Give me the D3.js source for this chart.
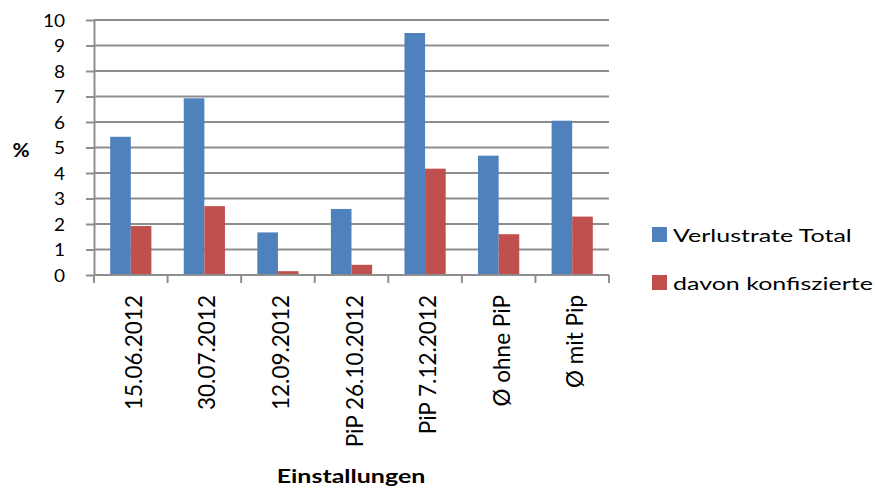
<html>
<head>
<meta charset="utf-8">
<script src="https://d3js.org/d3.v7.min.js"></script>
<style>
  body { margin: 0; background: #fff; }
  text { font-family: Lato, "Open Sans", sans-serif; fill: #000; }
</style>
</head>
<body>
<svg id="chart" width="875" height="492"></svg>
<script>
const categories = ["15.06.2012", "30.07.2012", "12.09.2012", "PiP 26.10.2012", "PiP 7.12.2012", "Ø ohne PiP", "Ø mit Pip"];
const seriesNames = ["Verlustrate Total", "davon konfiszierte"];
const totalValues = [5.42, 6.93, 1.67, 2.59, 9.49, 4.68, 6.05];
const confiscatedValues = [1.92, 2.70, 0.15, 0.40, 4.17, 1.60, 2.29];
const yTicks = [0, 1, 2, 3, 4, 5, 6, 7, 8, 9, 10];
const colors = ["#4F81BD", "#C0504D"];

const svg = d3.select("#chart");
const plotLeft = 94, plotRight = 609, plotTop = 20, plotBottom = 275;
const gridColor = "#8e8e8e";

const x = d3.scaleBand().domain(categories).range([plotLeft, plotRight]).paddingInner(0.44).paddingOuter(0.22);
const xs = d3.scaleBand().domain(seriesNames).range([0, x.bandwidth()]);
const y = d3.scaleLinear().domain([0, 10]).range([plotBottom, plotTop]);

// gridlines
svg.append("g")
  .selectAll("line")
  .data(yTicks.filter(d => d > 0))
  .join("line")
  .attr("x1", plotLeft).attr("x2", plotRight)
  .attr("y1", d => y(d)).attr("y2", d => y(d))
  .attr("stroke", gridColor).attr("stroke-width", 2);

// y axis
const yAxis = svg.append("g").attr("transform", "translate(" + plotLeft + ",0)")
  .call(d3.axisLeft(y).tickValues(yTicks).tickSize(8).tickSizeOuter(0));
yAxis.select(".domain").attr("stroke", gridColor).attr("stroke-width", 2);
yAxis.selectAll(".tick line").attr("stroke", gridColor).attr("stroke-width", 2);
yAxis.selectAll(".tick text")
  .attr("x", 0).attr("dy", "0.36em")
  .attr("transform", "translate(-29,0) scale(1.12,1)")
  .style("font-size", "17px").style("font-family", "Lato, sans-serif").attr("fill", "#000");

// bars
const data = categories.map((c, i) => ({cat: c, vals: [totalValues[i], confiscatedValues[i]]}));
svg.append("g")
  .selectAll("g")
  .data(data)
  .join("g")
  .attr("transform", d => "translate(" + x(d.cat) + ",0)")
  .selectAll("rect")
  .data(d => d.vals.map((v, j) => ({name: seriesNames[j], v: v, j: j})))
  .join("rect")
  .attr("x", d => xs(d.name))
  .attr("width", xs.bandwidth())
  .attr("y", d => y(d.v))
  .attr("height", d => y(0) - y(d.v))
  .attr("fill", d => colors[d.j]);

// x axis (category boundaries as ticks)
const step = (plotRight - plotLeft) / categories.length;
svg.append("line").attr("x1", plotLeft).attr("x2", plotRight).attr("y1", plotBottom).attr("y2", plotBottom)
  .attr("stroke", gridColor).attr("stroke-width", 2);
svg.append("g").selectAll("line")
  .data(d3.range(categories.length + 1))
  .join("line")
  .attr("x1", i => plotLeft + i * step).attr("x2", i => plotLeft + i * step)
  .attr("y1", plotBottom).attr("y2", plotBottom + 8)
  .attr("stroke", gridColor).attr("stroke-width", 2);

svg.append("g").selectAll("text")
  .data(categories)
  .join("text")
  .attr("transform", d => "translate(" + (x(d) + x.bandwidth() / 2 + 11) + "," + (plotBottom + 20) + ") rotate(-90)")
  .attr("text-anchor", "end")
  .style("font-size", "22.5px")
  .text(d => d);

// axis titles
svg.append("text").attr("transform", "translate(21,156.5) scale(1.1,1)").attr("text-anchor", "middle")
  .style("font-size", "19px").style("font-weight", "bold").text("%");
svg.append("text").attr("transform", "translate(351,483) scale(1.35,1)").attr("text-anchor", "middle")
  .style("font-size", "18.5px").style("font-weight", "bold").text("Einstallungen");

// legend
const legend = svg.append("g").selectAll("g")
  .data(seriesNames)
  .join("g")
  .attr("transform", (d, i) => "translate(652," + (234.5 + i * 48) + ")");
legend.append("rect").attr("x", 0).attr("y", -7.5).attr("width", 15).attr("height", 15)
  .attr("fill", (d, i) => colors[i]);
legend.append("text").attr("transform", "translate(21,7) scale(1.42,1)")
  .style("font-size", "17.6px").text(d => d);
</script>
</body>
</html>
